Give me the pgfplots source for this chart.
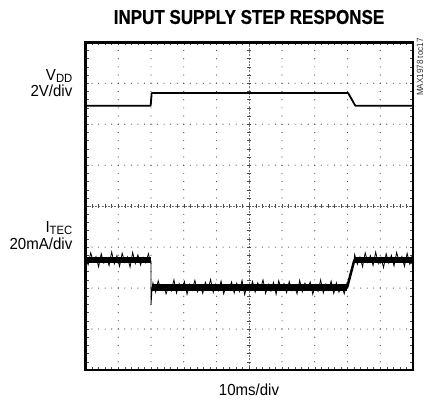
\documentclass[border=0pt]{standalone}
\usepackage{pgfplots}
\pgfplotsset{compat=1.18}
\usepackage{fontspec}
\setmainfont{Liberation Sans}
\begin{document}
\begin{tikzpicture}[x=1pt,y=1pt]
\useasboundingbox (0,0) rectangle (425,404);
% ---- graticule (drawn beneath) ----
\begin{scope}[shift={(85.5pt,34pt)}, x=32.75pt, y=40.96pt]
  \foreach \gy in {1,2,3,5,6,7} {\foreach \k in {1,...,49} {\fill[black!70] (\k*0.2,\gy) circle (0.6pt);}}
  \foreach \gx in {1,2,3,4,6,7,8,9} {\foreach \k in {1,...,39} {\fill[black!70] (\gx,\k*0.2) circle (0.6pt);}}
  \draw[black!55, line width=0.4pt, dash pattern=on 2pt off 1.2pt] (0,4) -- (10,4);
  \draw[black!55, line width=0.4pt, dash pattern=on 2pt off 1.2pt] (5,0) -- (5,8);
  \foreach \k in {1,...,49} {
    \draw[black!70, line width=0.5pt] (\k*0.2,4) ++(0,-2pt) -- ++(0,4pt);
    \draw[black!70, line width=0.5pt] (\k*0.2,0) -- ++(0,3pt);
    \draw[black!70, line width=0.5pt] (\k*0.2,8) -- ++(0,-3pt);
  }
  \foreach \k in {1,...,39} {
    \draw[black!70, line width=0.5pt] (5,\k*0.2) ++(-2pt,0) -- ++(4pt,0);
    \draw[black!70, line width=0.5pt] (0,\k*0.2) -- ++(3pt,0);
    \draw[black!70, line width=0.5pt] (10,\k*0.2) -- ++(-3pt,0);
  }
\end{scope}
% ---- traces ----
\begin{axis}[at={(85.5pt,34pt)}, anchor=south west, scale only axis,
  width=327.5pt, height=327.7pt, xmin=0, xmax=10, ymin=0, ymax=8,
  ticks=none, axis line style={line width=2.6pt}, clip=true]
% VDD trace
\addplot[black, line width=1.8pt, line join=round] coordinates {
 (0,6.45) (1.99,6.45) (2.02,6.76) (8.02,6.76) (8.24,6.45) (10,6.45)};
% ITEC core band
\addplot[black, line width=6.5pt] coordinates {(0,2.69) (1.99,2.69)};
\addplot[black, line width=6.5pt] coordinates {(2.04,2.02) (7.99,2.02)};
\addplot[black, line width=6.5pt] coordinates {(8.21,2.69) (10,2.69)};
\addplot[black, line width=2.5pt] coordinates {(7.99,2.02) (8.21,2.69)};
% ITEC noisy trace
\addplot[black, line width=0.8pt] coordinates {
 (0.00,2.80) (0.08,2.57) (0.16,2.86) (0.24,2.64) (0.32,2.77) (0.40,2.52) (0.48,2.84) (0.56,2.61)
 (0.64,2.74) (0.72,2.55) (0.80,2.88) (0.88,2.59) (0.96,2.79) (1.04,2.53) (1.12,2.85) (1.20,2.63)
 (1.28,2.76) (1.36,2.51) (1.44,2.87) (1.52,2.60) (1.60,2.81) (1.68,2.56) (1.76,2.75) (1.84,2.62)
 (1.92,2.84) (1.98,2.66) (2.00,2.66) (2.00,1.59) (2.03,1.96)
 (2.06,2.13) (2.14,1.90) (2.22,2.18) (2.30,1.97) (2.38,2.08) (2.46,1.86) (2.54,2.05) (2.62,1.93)
 (2.70,2.20) (2.78,1.88) (2.86,2.11) (2.94,1.99) (3.02,2.16) (3.10,1.85) (3.18,2.09) (3.26,1.95)
 (3.34,2.19) (3.42,1.91) (3.50,2.06) (3.58,1.87) (3.66,2.14) (3.74,1.96) (3.82,2.21) (3.90,1.89)
 (3.98,2.10)
 (4.06,1.94) (4.14,2.17) (4.22,1.86) (4.30,2.07) (4.38,1.98) (4.46,2.15) (4.54,1.88) (4.62,2.12)
 (4.70,1.92) (4.78,2.19) (4.86,1.84) (4.94,2.08) (5.02,1.95) (5.10,2.16) (5.18,1.90) (5.26,2.13)
 (5.34,1.97) (5.42,2.20) (5.50,1.87) (5.58,2.09) (5.66,1.93) (5.74,2.14) (5.82,1.85) (5.90,2.18)
 (5.98,1.96)
 (6.06,2.11) (6.14,1.89) (6.22,2.16) (6.30,1.94) (6.38,2.05) (6.46,1.86) (6.54,2.19) (6.62,1.91)
 (6.70,2.12) (6.78,1.98) (6.86,2.15) (6.94,1.85) (7.02,2.08) (7.10,1.92) (7.18,2.20) (7.26,1.88)
 (7.34,2.10) (7.42,1.95) (7.50,2.17) (7.58,1.87) (7.66,2.13) (7.74,1.90) (7.82,2.07) (7.90,1.86)
 (7.98,2.11) (8.00,2.02) (8.20,2.69)
 (8.22,2.82) (8.30,2.58) (8.38,2.76) (8.46,2.52) (8.54,2.86) (8.62,2.63) (8.70,2.79) (8.78,2.55)
 (8.86,2.88) (8.94,2.60) (9.02,2.75) (9.10,2.50) (9.18,2.84) (9.26,2.61) (9.34,2.80) (9.42,2.54)
 (9.50,2.87) (9.58,2.64) (9.66,2.77) (9.74,2.53) (9.82,2.85) (9.90,2.59) (9.98,2.81) (10.00,2.70)};
\end{axis}
% ---- texts ----
\node[font=\fontsize{20}{20}\selectfont\bfseries\addfontfeature{FakeBold=0.6}] at (249,387) {\scalebox{0.85}[1]{INPUT SUPPLY STEP RESPONSE}};
\node[anchor=east, inner sep=0pt, font=\fontsize{16}{16}\selectfont] at (72.5,328) {\scalebox{0.94}[1]{V\raisebox{-0.3ex}{\fontsize{12}{12}\selectfont DD}}};
\node[anchor=east, inner sep=0pt, font=\fontsize{16}{16}\selectfont] at (72.5,313) {\scalebox{0.94}[1]{2V/div}};
\node[anchor=east, inner sep=0pt, font=\fontsize{16}{16}\selectfont] at (72.5,176) {\scalebox{0.94}[1]{I\raisebox{-0.3ex}{\fontsize{12}{12}\selectfont TEC}}};
\node[anchor=east, inner sep=0pt, font=\fontsize{16}{16}\selectfont] at (72.5,160) {\scalebox{0.94}[1]{20mA/div}};
\node[font=\fontsize{16}{16}\selectfont] at (249,14) {\scalebox{0.94}[1]{10ms/div}};
\node[rotate=90, text=black!80, font=\fontsize{9}{9}\selectfont] at (420,337) {\scalebox{0.9}[1]{MAX1978 toc17}};
\end{tikzpicture}
\end{document}
